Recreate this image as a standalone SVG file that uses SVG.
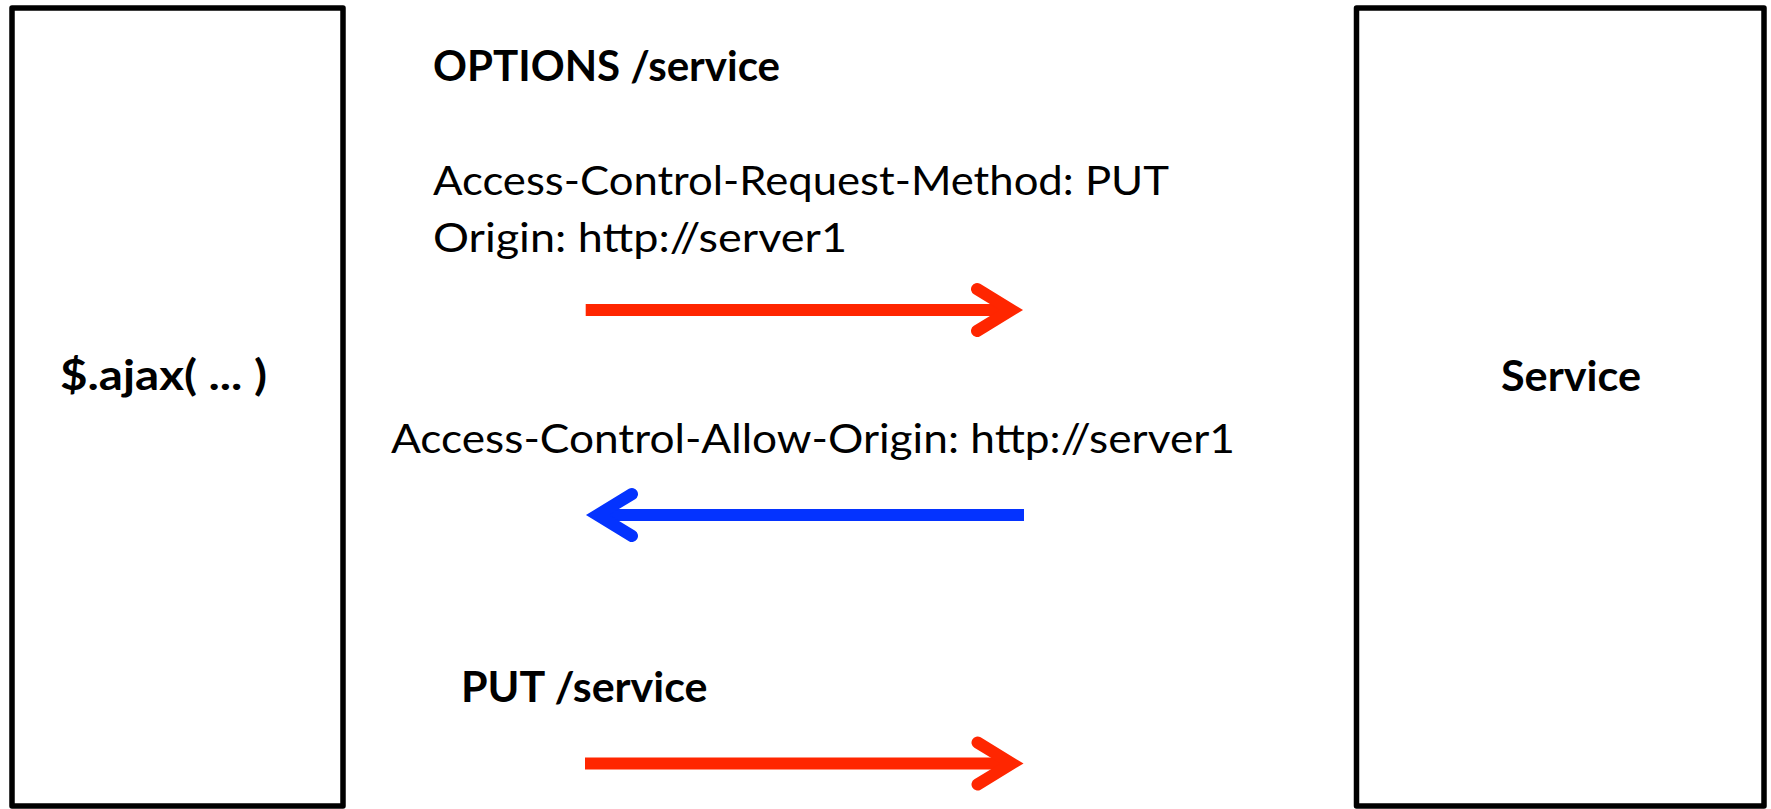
<svg xmlns="http://www.w3.org/2000/svg" width="1771" height="809" viewBox="0 0 1771 809">
  <style>
    .box { fill: #ffffff; stroke: #000000; stroke-width: 5.5; stroke-linejoin: round; }
    .bold { font-family: Lato, "Open Sans", "Liberation Sans", sans-serif; font-weight: bold; font-size: 42px; fill: #000000; }
    .reg { font-family: Lato, "Open Sans", "Liberation Sans", sans-serif; font-weight: normal; font-size: 41px; fill: #000000; }
    .shaft { fill: none; stroke-width: 12; stroke-linecap: butt; }
    .req { stroke: #FF2600; }
    .resp { stroke: #0433FF; }
  </style>
  <defs>
    <!-- open chevron heads, tip at the origin pointing along +x -->
    <marker id="head-red" markerUnits="userSpaceOnUse" viewBox="-45 -30 50 60" refX="0" refY="0" markerWidth="50" markerHeight="60" orient="auto" overflow="visible">
      <path d="M -34.5 -21 L 0 0 L -34.5 21" fill="none" stroke="#FF2600" stroke-width="12" stroke-linecap="round" stroke-linejoin="miter"/>
    </marker>
    <marker id="head-blue" markerUnits="userSpaceOnUse" viewBox="-45 -30 50 60" refX="0" refY="0" markerWidth="50" markerHeight="60" orient="auto" overflow="visible">
      <path d="M -34.5 -21 L 0 0 L -34.5 21" fill="none" stroke="#0433FF" stroke-width="12" stroke-linecap="round" stroke-linejoin="miter"/>
    </marker>
  </defs>

  <rect width="1771" height="809" fill="#ffffff"/>

  <g id="client">
    <rect class="box" x="12" y="8" width="331" height="798"/>
    <text class="bold" x="60" y="390" textLength="207" lengthAdjust="spacingAndGlyphs">$.ajax( ... )</text>
  </g>

  <g id="service">
    <rect class="box" x="1356.5" y="8" width="407.5" height="798"/>
    <text class="bold" x="1501" y="390.5" textLength="140" lengthAdjust="spacingAndGlyphs">Service</text>
  </g>

  <g id="labels">
    <text class="bold" x="433" y="81" textLength="347" lengthAdjust="spacingAndGlyphs">OPTIONS /service</text>
    <text class="reg" x="433" y="195" textLength="736" lengthAdjust="spacingAndGlyphs">Access-Control-Request-Method: PUT</text>
    <text class="reg" x="433" y="251.5" textLength="414" lengthAdjust="spacingAndGlyphs">Origin: http://server1</text>
    <text class="reg" x="391" y="453.3" textLength="844" lengthAdjust="spacingAndGlyphs">Access-Control-Allow-Origin: http://server1</text>
    <text class="bold" x="461" y="701.7" textLength="246.5" lengthAdjust="spacingAndGlyphs">PUT /service</text>
  </g>

  <g id="connectors">
    <!-- preflight request -->
    <line class="shaft req" x1="585.7" y1="310" x2="1011.5" y2="310" marker-end="url(#head-red)"/>
    <!-- preflight response -->
    <line class="shaft resp" x1="1024" y1="515" x2="597.5" y2="515" marker-end="url(#head-blue)"/>
    <!-- actual request -->
    <line class="shaft req" x1="585" y1="763.5" x2="1012" y2="763.5" marker-end="url(#head-red)"/>
  </g>
</svg>
